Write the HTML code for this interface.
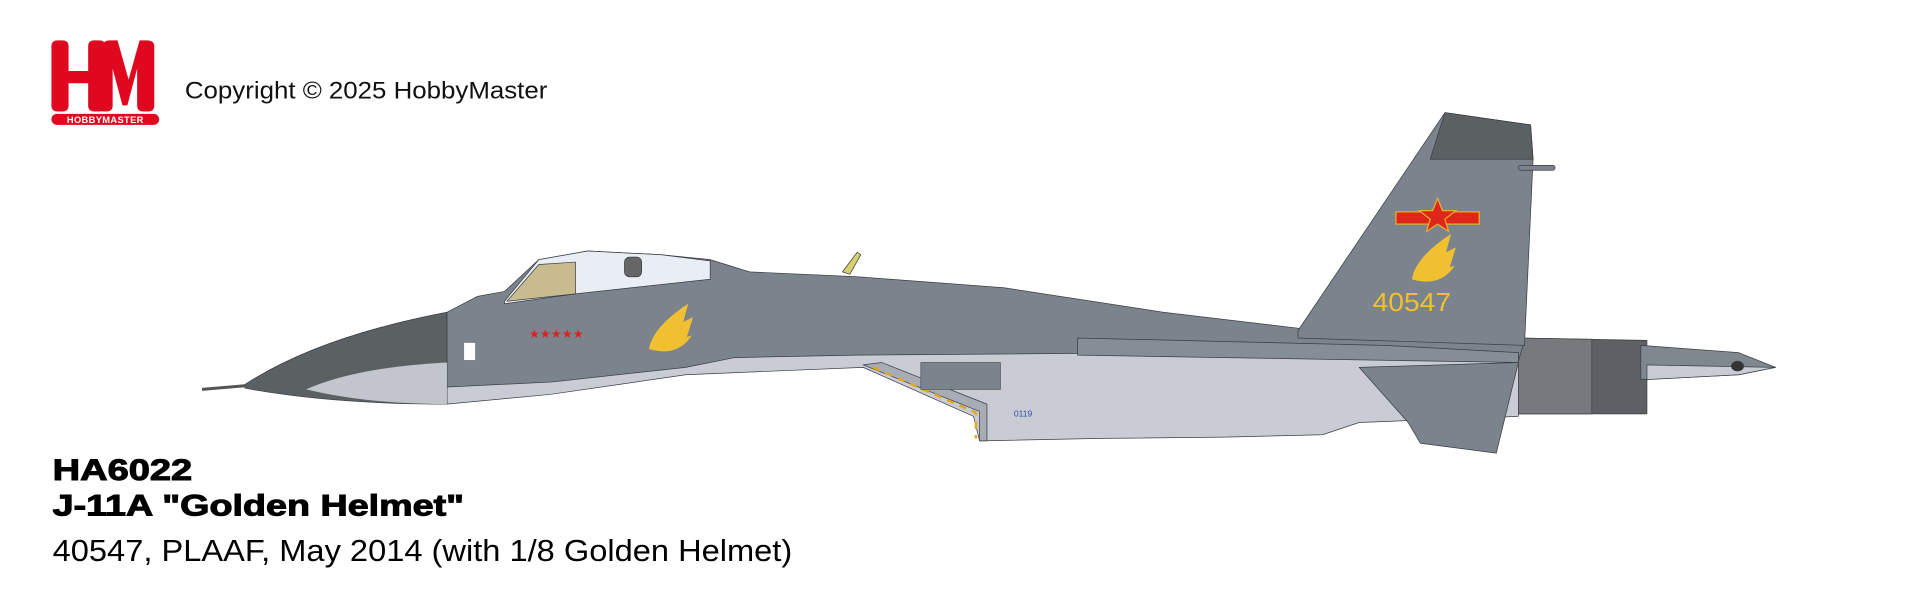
<!DOCTYPE html>
<html><head><meta charset="utf-8"><style>
html,body{margin:0;padding:0;background:#fff;width:1920px;height:608px;overflow:hidden}
svg{display:block}
</style></head><body>
<svg width="1920" height="608" viewBox="0 0 1568 496.5" xmlns="http://www.w3.org/2000/svg">
<!-- logo -->
<g fill="#e0081f">
<path d="M42,38 q0,-5 5,-5 h4 q5,0 5,5 v20 h16 v-20 q0,-5 5,-5 h4 q5,0 5,5 v48 q0,5 -5,5 h-4 q-5,0 -5,-5 v-18 h-16 v18 q0,5 -5,5 h-4 q-5,0 -5,-5z"/>
<path d="M84,38 q0,-5 6,-5 h6 l9,32 l9,-32 h6 q6,0 6,5 v48 q0,5 -5,5 h-4 q-5,0 -5,-5 v-30 l-8,30 h-4 l-8,-30 v30 q0,5 -5,5 h-2 q-5,0 -5,-5z"/>
<rect x="42" y="93" width="88" height="9" rx="4.5"/>
</g>
<text x="86" y="100.5" font-family="Liberation Sans" font-weight="bold" font-size="7.6" fill="#fff" text-anchor="middle" letter-spacing="0.3">HOBBYMASTER</text>
<text x="151" y="80.5" font-family="Liberation Sans, sans-serif" font-size="20" fill="#111" textLength="296" lengthAdjust="spacingAndGlyphs">Copyright © 2025 HobbyMaster</text>
<!-- bottom text -->
<text x="43" y="392" font-family="Liberation Sans, sans-serif" font-weight="bold" font-size="24" fill="#000" stroke="#000" stroke-width="0.8" textLength="114" lengthAdjust="spacingAndGlyphs">HA6022</text>
<text x="43" y="421" font-family="Liberation Sans, sans-serif" font-weight="bold" font-size="24" fill="#000" stroke="#000" stroke-width="0.8" textLength="336" lengthAdjust="spacingAndGlyphs">J-11A "Golden Helmet"</text>
<text x="43" y="458" font-family="Liberation Sans, sans-serif" font-size="25" fill="#000" textLength="604" lengthAdjust="spacingAndGlyphs">40547, PLAAF, May 2014 (with 1/8 Golden Helmet)</text>

<!-- aircraft -->
<g stroke="#3a3f44" stroke-width="0.6" stroke-linejoin="round">
<!-- engine nozzle -->
<path d="M1236,276 L1345,278 L1345,338 L1236,338 Z" fill="#5d6064"/>
<path d="M1236,276 L1300,277 L1300,338 L1236,338 Z" fill="#767a7e"/>
<!-- tail boom -->
<path d="M1340,282 L1420,288 L1450,300 L1420,306 L1340,310 Z" fill="#80888f"/>
<path d="M1345,298 L1450,300 L1420,306 L1345,310 Z" fill="#c9ccd4"/>
<ellipse cx="1419" cy="299" rx="5" ry="4" fill="#333"/>
<!-- lower light fuselage -->
<path d="M365,290 L560,282 L700,285 L960,285 L1240,290 L1240,340 L1110,345 L1080,355 L1000,357 L900,358 L800,360 L795,340 L705,300 L560,306 L450,322 L365,330 Z" fill="#c9ccd4"/>
<!-- horizontal stabilizer -->
<path d="M1110,300 L1240,296 L1222,370 L1160,362 L1150,345 Z" fill="#7b838d"/>
<!-- intake ramp -->
<path d="M705,298 L800,336 L800,360 L806,360 L806,330 L720,296 Z" fill="#a8adb5"/>
<path d="M713,300 L797,337 L797,358" fill="none" stroke="#e0a820" stroke-width="2" stroke-dasharray="6,5"/>
<rect x="752" y="296" width="65" height="22" fill="#7b838d" stroke="#555"/>
<!-- upper gray fuselage -->
<path d="M365,255 L390,242 L412,238 L440,212 L480,205 L540,208 L580,212 L612,222 L700,226 L820,235 L950,255 L1060,268 L1180,272 L1245,278 L1240,295 L960,288 L700,290 L600,292 L560,300 L450,312 L365,316 Z" fill="#7b838d"/>
<!-- wing edge -->
<path d="M880,276 L1130,282 L1240,288 L1240,296 L1000,292 L880,290 Z" fill="#858d96"/>
<!-- canopy -->
<path d="M412,246 L440,212 L480,205 L540,208 L580,213 L580,228 L470,240 L412,248 Z" fill="#e8eef4"/>
<path d="M414,246 L440,216 L470,214 L470,240 Z" fill="#c8bb90"/>
<rect x="510" y="210" width="14" height="16" rx="4" fill="#666"/>
<!-- nose radome -->
<path d="M200,314 Q260,275 365,255 L365,330 Q270,330 200,317 Z" fill="#5b6163"/>
<path d="M250,318 Q290,300 365,296 L365,330 Q300,330 250,318 Z" fill="#c2c6cc" stroke="none"/>
<line x1="165" y1="318" x2="200" y2="315" stroke="#555" stroke-width="2.5"/>
<!-- vertical tail -->
<path d="M1060,270 L1180,92 L1250,102 L1252,130 L1245,282 L1060,276 Z" fill="#7b838d"/>
<path d="M1180,92 L1250,102 L1252,130 L1168,130 Z" fill="#5b6163"/>
<rect x="1240" y="135" width="30" height="4" rx="2" fill="#7b838d"/>
<path d="M688,222 L700,206 L703,208 L694,224 Z" fill="#d8d070"/>
</g>
<!-- markings -->
<rect x="1140" y="173" width="68" height="10" fill="#e0261c" stroke="#e8b02a"/>
<polygon points="1174,162 1178,172 1189,172 1180,179 1183,189 1174,183 1165,189 1168,179 1159,172 1170,172" fill="#e0261c" stroke="#e8b02a"/>
<text x="1121" y="254" font-family="Liberation Sans, sans-serif" font-size="21" fill="#f0c030" textLength="64" lengthAdjust="spacingAndGlyphs">40547</text>
<path d="M1153,228 q3,-18 32,-37 l-4,15 l8,-4 l-5,16 l4,-1 q-12,18 -35,11 z" fill="#f0c030"/>
<path d="M530,285 q3,-18 32,-37 l-4,15 l8,-4 l-5,16 l4,-1 q-12,18 -35,11 z" fill="#f0c030"/>
<text x="432" y="276" font-family="Liberation Sans" font-size="10" fill="#e02020">★★★★★</text>
<rect x="379" y="280" width="9" height="14" fill="#fff"/>
<text x="828" y="340" font-family="Liberation Sans" font-size="7" fill="#3050a0">0119</text>
</svg>
</body></html>
